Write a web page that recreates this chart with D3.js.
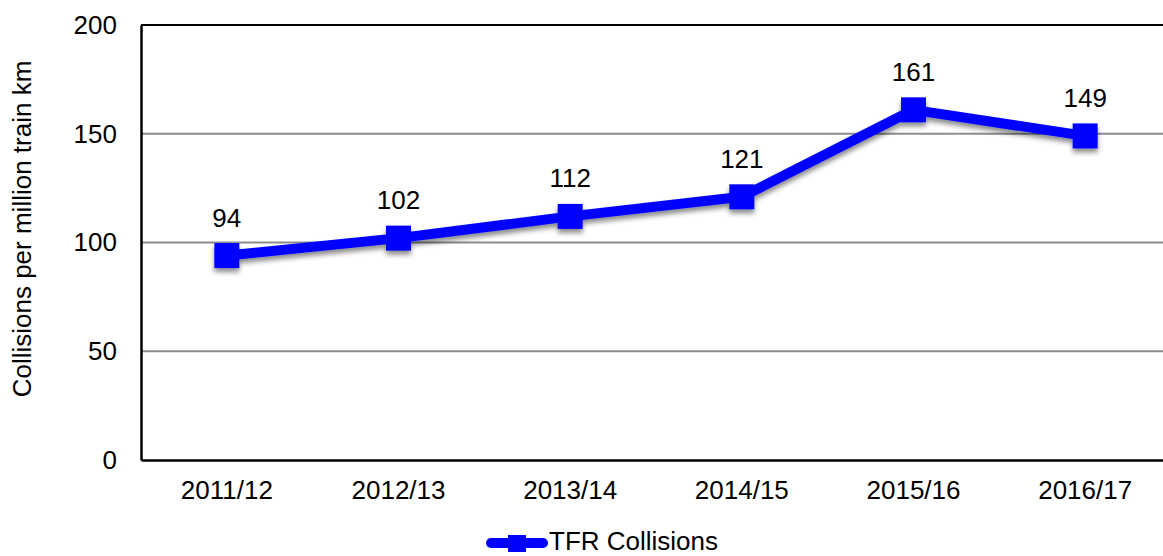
<!DOCTYPE html>
<html>
<head>
<meta charset="utf-8">
<script src="https://cdn.jsdelivr.net/npm/d3@7"></script>
<style>
  body { margin: 0; background: #fff; }
  text { font-family: "Liberation Sans", Arial, sans-serif; fill: #000; }
</style>
</head>
<body>
<svg id="chart"></svg>
<script>
const years = ["2011/12", "2012/13", "2013/14", "2014/15", "2015/16", "2016/17"];
const collisions = [94, 102, 112, 121, 161, 149];
const yTicks = [0, 50, 100, 150, 200];
const seriesName = "TFR Collisions";
const yTitle = "Collisions per million train km";

const wSvg = 1163;
const hSvg = 556;
const margin = { top: 25, right: -8, bottom: 96, left: 141 };
const blue = "#0000ff";
const fs = 26;

const data = years.map((y, i) => ({ year: y, value: collisions[i] }));

const svg = d3.select("#chart")
  .attr("width", wSvg)
  .attr("height", hSvg);

// drop shadow like the office chart
const defs = svg.append("defs");
const filt = defs.append("filter").attr("id", "shadow")
  .attr("x", "-20%").attr("y", "-20%").attr("width", "140%").attr("height", "160%");
filt.append("feDropShadow")
  .attr("dx", 0).attr("dy", 4).attr("stdDeviation", 2.5)
  .attr("flood-color", "#000").attr("flood-opacity", 0.45);

const x = d3.scaleBand()
  .domain(years)
  .range([margin.left, wSvg - margin.right]);

const y = d3.scaleLinear()
  .domain([0, 200])
  .range([hSvg - margin.bottom, margin.top]);

// gridlines
svg.append("g")
  .selectAll("line")
  .data(yTicks.filter(t => t > 0 && t < 200))
  .enter()
  .append("line")
  .attr("x1", margin.left)
  .attr("x2", wSvg)
  .attr("y1", d => y(d))
  .attr("y2", d => y(d))
  .attr("stroke", "#8c8c8c")
  .attr("stroke-width", 2);

// top border
svg.append("line")
  .attr("x1", margin.left).attr("x2", wSvg)
  .attr("y1", y(200)).attr("y2", y(200))
  .attr("stroke", "#000").attr("stroke-width", 2);

// y axis
const yAxis = svg.append("g")
  .attr("transform", `translate(${margin.left}, 0)`)
  .call(d3.axisLeft(y).tickValues(yTicks).tickSize(0).tickPadding(24));
yAxis.attr("font-size", fs).attr("font-family", null);
yAxis.select(".domain").attr("stroke", "#000").attr("stroke-width", 2.5);

// x axis
const xAxis = svg.append("g")
  .attr("transform", `translate(0, ${hSvg - margin.bottom})`)
  .call(d3.axisBottom(x).tickSize(0).tickPadding(21));
xAxis.attr("font-size", fs).attr("font-family", null);
xAxis.select(".domain").attr("stroke", "#000").attr("stroke-width", 2.5);

// y title
svg.append("text")
  .attr("transform", `translate(31, 229) rotate(-90)`)
  .attr("text-anchor", "middle")
  .attr("font-size", fs)
  .text(yTitle);

const cx = d => x(d.year) + x.bandwidth() / 2;

const line = d3.line()
  .x(cx)
  .y(d => y(d.value));

const series = svg.append("g").attr("filter", "url(#shadow)");

series.append("path")
  .datum(data)
  .attr("d", line)
  .attr("fill", "none")
  .attr("stroke", blue)
  .attr("stroke-width", 10)
  .attr("stroke-linejoin", "round");

const mSize = 25;
series.selectAll("rect")
  .data(data)
  .enter()
  .append("rect")
  .attr("x", d => cx(d) - mSize / 2)
  .attr("y", d => y(d.value) - mSize / 2)
  .attr("width", mSize)
  .attr("height", mSize)
  .attr("fill", blue);

// value labels
svg.append("g")
  .selectAll("text")
  .data(data)
  .enter()
  .append("text")
  .attr("x", cx)
  .attr("y", d => y(d.value) - 29)
  .attr("text-anchor", "middle")
  .attr("font-size", fs)
  .text(d => d.value);

// legend
const lg = svg.append("g").attr("transform", "translate(487, 543)");
lg.append("line")
  .attr("x1", 4).attr("x2", 56)
  .attr("y1", 0).attr("y2", 0)
  .attr("stroke", blue).attr("stroke-width", 10)
  .attr("stroke-linecap", "round");
lg.append("rect")
  .attr("x", 21).attr("y", -8)
  .attr("width", 18).attr("height", 17)
  .attr("fill", blue);
lg.append("text")
  .attr("x", 62).attr("y", 7)
  .attr("font-size", fs)
  .text(seriesName);
</script>
</body>
</html>
